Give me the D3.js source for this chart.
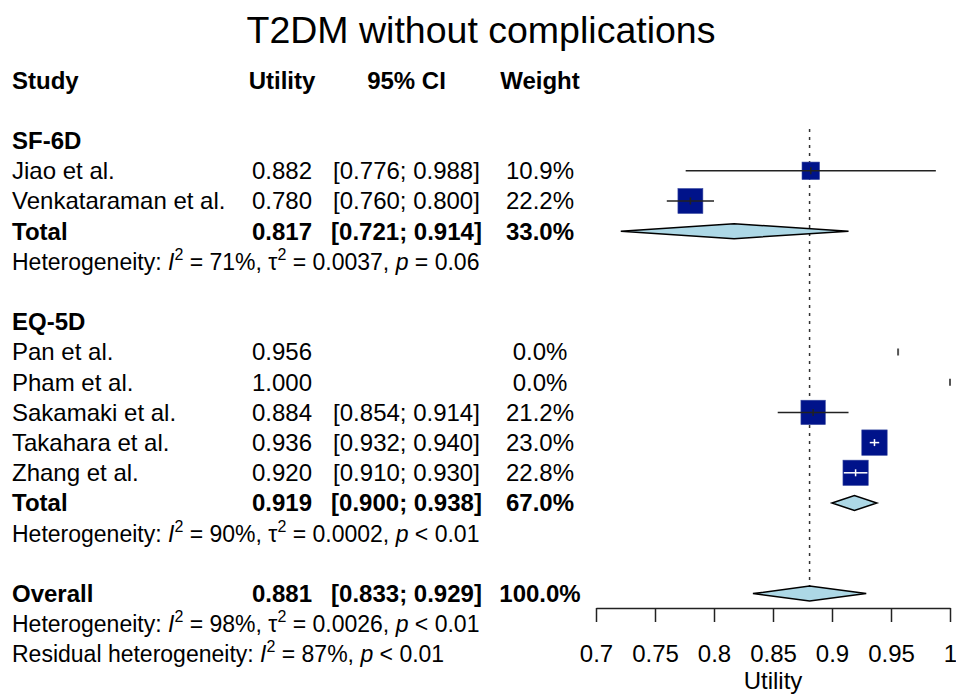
<!DOCTYPE html>
<html>
<head>
<meta charset="utf-8">
<script src="https://cdn.jsdelivr.net/npm/d3@7"></script>
<style>
  html, body { margin: 0; padding: 0; background: #fff; }
  svg { display: block; font-family: "Liberation Sans", Arial, Helvetica, sans-serif; }
</style>
</head>
<body>
<svg id="chart" width="956" height="696"></svg>
<script>
// ---- data ----
const studies   = ["Jiao et al.", "Venkataraman et al.", "Pan et al.", "Pham et al.", "Sakamaki et al.", "Takahara et al.", "Zhang et al."];
const studyGroup = ["SF-6D", "SF-6D", "EQ-5D", "EQ-5D", "EQ-5D", "EQ-5D", "EQ-5D"];
const utility   = [0.882, 0.780, 0.956, 1.000, 0.884, 0.936, 0.920];
const ciLower   = [0.776, 0.760, null, null, 0.854, 0.932, 0.910];
const ciUpper   = [0.988, 0.800, null, null, 0.914, 0.940, 0.930];
const weight    = [10.9, 22.2, 0.0, 0.0, 21.2, 23.0, 22.8];

const groupNames  = ["SF-6D", "EQ-5D"];
const groupEst    = [0.817, 0.919];
const groupLower  = [0.721, 0.900];
const groupUpper  = [0.914, 0.938];
const groupWeight = [33.0, 67.0];
const groupI2     = ["71%", "90%"];
const groupTau2   = ["0.0037", "0.0002"];
const groupP      = ["= 0.06", "< 0.01"];

const overallEst = 0.881, overallLower = 0.833, overallUpper = 0.929, overallWeight = 100.0;
const overallI2 = "98%", overallTau2 = "0.0026", overallP = "< 0.01";
const residualI2 = "87%", residualP = "< 0.01";

const tickValues = [0.7, 0.75, 0.8, 0.85, 0.9, 0.95, 1.0];
const tickLabels = ["0.7", "0.75", "0.8", "0.85", "0.9", "0.95", "1"];

// ---- layout ----
const svg = d3.select("#chart");
const x = d3.scaleLinear().domain([0.7, 1.0]).range([596, 950]);
const rowY = i => 80.2 + 30.2 * i;        // centre of row i
const base = i => rowY(i) + 8.4;           // text baseline of row i
const sq = d3.scaleSqrt().domain([0, 23.0]).range([0, 25.4]);

const colStudy = 12, colUtil = 282, colCI = 406.5, colW = 540;
const FS = 24, FS_HET = 23;
const fmt3 = d3.format(".3f"), fmtW = d3.format(".1f");

// title
svg.append("text").attr("x", 481).attr("y", 43).attr("text-anchor", "middle")
  .attr("font-size", 37.5).text("T2DM without complications");

// column headers
const header = [["Study", colStudy, "start"], ["Utility", colUtil, "middle"], ["95% CI", colCI, "middle"], ["Weight", colW, "middle"]];
header.forEach(([t, cx, anchor]) => {
  svg.append("text").attr("x", cx).attr("y", base(0)).attr("text-anchor", anchor)
    .attr("font-size", FS).attr("font-weight", "bold").text(t);
});

function rowText(row, label, est, lo, hi, w, bold) {
  const g = svg.append("g").attr("font-size", FS).attr("font-weight", bold ? "bold" : "normal");
  g.append("text").attr("x", colStudy).attr("y", base(row)).text(label);
  if (est != null) g.append("text").attr("x", colUtil).attr("y", base(row)).attr("text-anchor", "middle").text(fmt3(est));
  if (lo != null) g.append("text").attr("x", colCI).attr("y", base(row)).attr("text-anchor", "middle")
    .text("[" + fmt3(lo) + "; " + fmt3(hi) + "]");
  if (w != null) g.append("text").attr("x", colW).attr("y", base(row)).attr("text-anchor", "middle").text(fmtW(w) + "%");
}

// heterogeneity line with italic I, tau and superscripts
function hetText(row, prefix, i2, tau2, p) {
  const t = svg.append("text").attr("x", colStudy).attr("y", base(row)).attr("font-size", FS_HET);
  t.append("tspan").text(prefix + ": ");
  t.append("tspan").attr("font-style", "italic").text("I");
  t.append("tspan").attr("font-size", 16).attr("dy", -10).text("2");
  t.append("tspan").attr("dy", 10).text(" = " + i2 + ", ");
  if (tau2 != null) {
    t.append("tspan").text("\u03C4");
    t.append("tspan").attr("font-size", 16).attr("dy", -10).text("2");
    t.append("tspan").attr("dy", 10).text(" = " + tau2 + ", ");
  }
  t.append("tspan").attr("font-style", "italic").text("p");
  t.append("tspan").text(" " + p);
}

function diamond(row, est, lo, hi) {
  const cy = rowY(row), h = 7.5;
  const pts = [[x(lo), cy], [x(est), cy - h], [x(hi), cy], [x(est), cy + h]];
  svg.append("path").attr("d", "M" + pts.map(p => p.join(",")).join("L") + "Z")
    .attr("fill", "#ADD8E6").attr("stroke", "#000").attr("stroke-width", 1.5);
}

// reference line at the overall estimate
svg.append("line").attr("x1", x(overallEst)).attr("x2", x(overallEst))
  .attr("y1", 129).attr("y2", rowY(17) - 7)
  .attr("stroke", "#333").attr("stroke-width", 1.5).attr("stroke-dasharray", "3,5");

// study rows, grouped
const studyRows = [3, 4, 9, 10, 11, 12, 13];
const groupRows = [2, 8], totalRows = [5, 14], hetRows = [6, 15];

groupNames.forEach((gname, gi) => {
  svg.append("text").attr("x", colStudy).attr("y", base(groupRows[gi]))
    .attr("font-size", FS).attr("font-weight", "bold").text(gname);
});

studies.forEach((s, i) => {
  const row = studyRows[i];
  const cy = rowY(row);
  rowText(row, s, utility[i], ciLower[i], ciUpper[i], weight[i], false);

  if (ciLower[i] == null) {
    // zero-weight study: small mark at the estimate
    svg.append("line").attr("x1", x(utility[i])).attr("x2", x(utility[i]))
      .attr("y1", cy - 3.5).attr("y2", cy + 3.5).attr("stroke", "#555").attr("stroke-width", 2);
    return;
  }
  const side = sq(weight[i]);
  const left = x(utility[i]) - side / 2, right = x(utility[i]) + side / 2;
  svg.append("rect").attr("x", left).attr("y", cy - side / 2).attr("width", side).attr("height", side)
    .attr("fill", "#00138A").attr("stroke", "#3a4aa0").attr("stroke-width", 0.6);
  const inside = x(ciLower[i]) >= left - 1 && x(ciUpper[i]) <= right + 1;
  const col = inside ? "#fff" : "#222";
  svg.append("line").attr("x1", x(ciLower[i])).attr("x2", x(ciUpper[i]))
    .attr("y1", cy).attr("y2", cy).attr("stroke", col).attr("stroke-width", 1.5);
  svg.append("line").attr("x1", x(utility[i])).attr("x2", x(utility[i]))
    .attr("y1", cy - 3.5).attr("y2", cy + 3.5).attr("stroke", col).attr("stroke-width", 1.5);
});

groupNames.forEach((gname, gi) => {
  rowText(totalRows[gi], "Total", groupEst[gi], groupLower[gi], groupUpper[gi], groupWeight[gi], true);
  diamond(totalRows[gi], groupEst[gi], groupLower[gi], groupUpper[gi]);
  hetText(hetRows[gi], "Heterogeneity", groupI2[gi], groupTau2[gi], groupP[gi]);
});

// overall
rowText(17, "Overall", overallEst, overallLower, overallUpper, overallWeight, true);
diamond(17, overallEst, overallLower, overallUpper);
hetText(18, "Heterogeneity", overallI2, overallTau2, overallP);
hetText(19, "Residual heterogeneity", residualI2, null, residualP);

// x axis
const axis = d3.axisBottom(x).tickValues(tickValues)
  .tickFormat((d, i) => tickLabels[i]).tickSize(14).tickSizeOuter(0);
const ag = svg.append("g").attr("transform", "translate(0,608)").call(axis);
ag.select(".domain").attr("stroke", "#222").attr("stroke-width", 1.5);
ag.selectAll(".tick line").attr("stroke", "#222").attr("stroke-width", 1.5);
ag.selectAll(".tick text").attr("font-size", FS).attr("font-family", "Liberation Sans, Arial, sans-serif")
  .attr("fill", "#000").attr("y", 54).attr("dy", 0);

svg.append("text").attr("x", (x.range()[0] + x.range()[1]) / 2).attr("y", 689)
  .attr("text-anchor", "middle").attr("font-size", FS).text("Utility");
</script>
</body>
</html>
